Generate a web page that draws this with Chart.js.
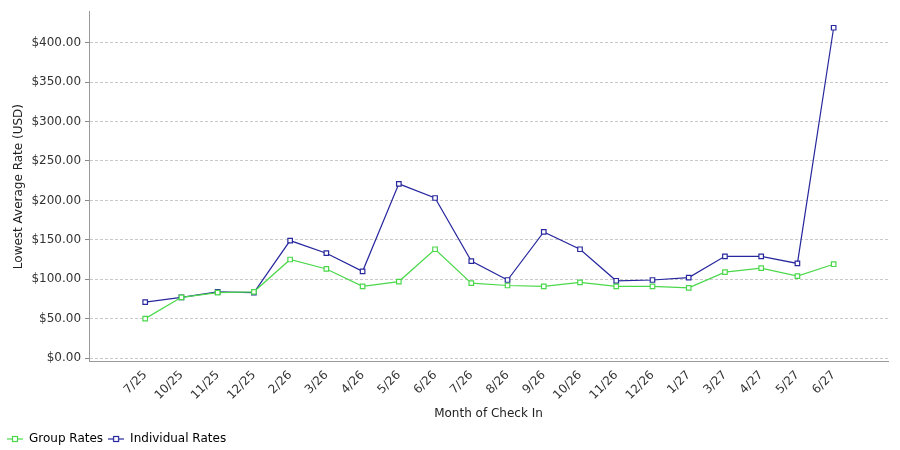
<!DOCTYPE html>
<html><head><meta charset="utf-8">
<script src="https://cdn.jsdelivr.net/npm/chart.js@4/dist/chart.umd.min.js"></script>
<style>html,body{margin:0;padding:0;background:#fff}#wrap{width:900px;height:450px;position:relative}</style>
</head><body><div id="wrap"><canvas id="c" width="900" height="450"></canvas></div>
<script>
const categories = ["7/25","10/25","11/25","12/25","2/26","3/26","4/26","5/26","6/26","7/26","8/26","9/26","10/26","11/26","12/26","1/27","3/27","4/27","5/27","6/27"];
const groupRates = [50, 77, 83, 84, 125, 113, 91, 97, 138, 95, 92, 91, 96, 91, 91, 89, 109, 114, 104, 119];
const individualRates = [71, 77, 84, 83, 149, 133, 110, 221, 203, 123, 99, 160, 138, 98, 99, 102, 129, 129, 120, 419];
const yTicks = [0, 50, 100, 150, 200, 250, 300, 350, 400];

const FONT = "'DejaVu Sans', sans-serif";
const GREEN = '#4ad84a', BLUE = '#28289e';
const toPts = arr => arr.map((v, i) => ({x: i, y: v}));

function legendIcon(color) {
  const c = document.createElement('canvas');
  c.width = 16; c.height = 8;
  const g = c.getContext('2d');
  g.strokeStyle = color; g.lineWidth = 1.2;
  g.beginPath(); g.moveTo(0, 4); g.lineTo(16, 4); g.stroke();
  g.fillStyle = '#fff'; g.fillRect(5.5, 1.5, 5, 5);
  g.strokeRect(5.5, 1.5, 5, 5);
  return c;
}
const icons = [legendIcon(GREEN), legendIcon(BLUE)];

new Chart(document.getElementById('c'), {
  type: 'line',
  data: {
    datasets: [
      {label: 'Group Rates', data: toPts(groupRates), borderColor: GREEN, backgroundColor: '#ffffff',
       borderWidth: 1.2, pointStyle: 'rect', pointRadius: 3.2, pointBorderWidth: 1.2, pointBorderColor: GREEN, tension: 0},
      {label: 'Individual Rates', data: toPts(individualRates), borderColor: BLUE, backgroundColor: '#ffffff',
       borderWidth: 1.2, pointStyle: 'rect', pointRadius: 3.2, pointBorderWidth: 1.2, pointBorderColor: BLUE, tension: 0}
    ]
  },
  options: {
    responsive: false, animation: false, devicePixelRatio: 1,
    layout: {padding: {left: 2, right: 12, top: 8, bottom: -5}},
    plugins: {
      legend: {position: 'bottom', align: 'start',
        labels: {font: {family: FONT, size: 12}, color: '#222', usePointStyle: true, pointStyleWidth: 16, padding: 5,
          generateLabels: chart => chart.data.datasets.map((d, i) => ({text: d.label, fillStyle: '#fff', strokeStyle: d.borderColor, lineWidth: 0, datasetIndex: i, pointStyle: icons[i]}))}
      },
      tooltip: {enabled: false}
    },
    scales: {
      x: {type: 'linear', min: -1.55, max: 20.5,
        afterBuildTicks: ax => { ax.ticks = categories.map((c, i) => ({value: i})); },
        ticks: {callback: v => categories[v] ?? '', autoSkip: false, maxRotation: 45, minRotation: 45,
          font: {family: FONT, size: 12}, color: '#333', padding: 2},
        grid: {display: false, drawTicks: true, tickLength: 4, tickColor: '#888'},
        border: {display: true, color: '#999'},
        title: {display: true, text: 'Month of Check In', font: {family: FONT, size: 12}, color: '#222', padding: {top: 2, bottom: 7}}
      },
      y: {min: -5, max: 440,
        afterBuildTicks: ax => { ax.ticks = yTicks.map(v => ({value: v})); },
        ticks: {callback: v => '$' + Number(v).toFixed(2), font: {family: FONT, size: 12}, color: '#333', padding: 4},
        grid: {color: '#c8c8c8', drawTicks: true, tickLength: 4, tickColor: '#888'},
        border: {display: true, color: '#999', dash: [3, 2]},
        title: {display: true, text: 'Lowest Average Rate (USD)', font: {family: FONT, size: 12}, color: '#222', padding: {top: 10, bottom: 1}}
      }
    }
  }
});
</script></body></html>
